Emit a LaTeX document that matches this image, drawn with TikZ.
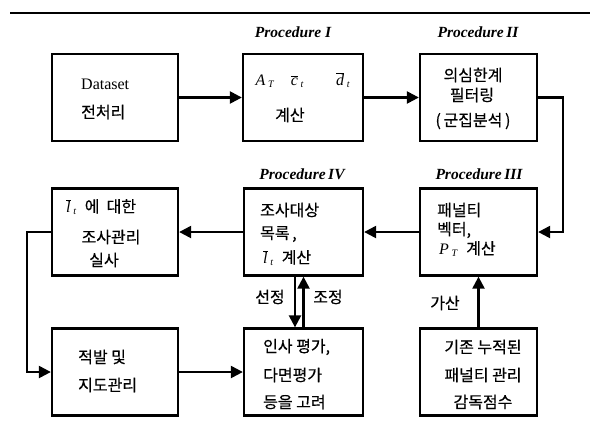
\documentclass[tikz,border=0pt]{standalone}
\usepackage{fontspec}
\setmainfont{Liberation Serif}
\newfontfamily\kr[FakeBold=0.5]{Noto Sans CJK KR}
\usetikzlibrary{arrows.meta}
\newcommand{\ovl}[1]{$\overline{\mbox{\textit{#1}}}$}
\newcommand{\sbx}[1]{$_{\mbox{\fontsize{10}{10}\selectfont\textit{#1}}}$}
\tikzset{
  box/.style={draw, line width=2.3pt, minimum width=#1, minimum height=87pt, inner sep=0pt},
  box/.default=120pt,
  conn/.style={line width=2.3pt, -{Triangle[length=12pt,width=12pt]}},
  txt/.style={font=\kr\fontsize{16}{18}\selectfont, inner sep=0pt},
  ltxt/.style={txt, anchor=west},
  mtxt/.style={anchor=west, inner sep=0pt, font=\fontsize{16}{18}\selectfont},
  proc/.style={font=\fontsize{15.5}{18}\selectfont\bfseries\itshape, inner sep=0pt},
}
\begin{document}
\begin{tikzpicture}[x=1pt,y=-1pt]
\useasboundingbox (0,0) rectangle (595,429);
\coordinate (tl) at (10,13);
\coordinate (tr) at (590,13);
\draw[line width=2.4pt] (tl) -- (tr);

% boxes
\node[box=126pt] (ds) at (115,97.5) {};
\node[box=120pt] (b1) at (303,97.5) {};
\node[box=117pt] (b2) at (478.5,97.5) {};
\node[box=117pt] (b3) at (478.5,232) {};
\node[box=119pt] (b4) at (303.5,232) {};
\node[box=126pt] (bl) at (115,232) {};
\node[box=126pt] (bj) at (115,372) {};
\node[box=119pt] (bi) at (303.5,372) {};
\node[box=117pt] (bg) at (478.5,372) {};

% procedure labels
\node[proc] (p1) at (293,32) {Procedure I};
\node[proc] (p2) at (478,32) {Procedure\,II};
\node[proc] (p3) at (479,174) {Procedure\,III};
\node[proc] (p4) at (302,174) {Procedure\,IV};

% box texts
\node[mtxt] (t1a) at (81,84) {Dataset};
\node[ltxt] (t1b) at (81,112) {전처리};

\node[inner sep=0pt, font=\fontsize{16}{18}\selectfont] (t2a) at (303,80) {\textit{A}\,\sbx{T}\quad\ovl{c}\,\sbx{t}\qquad\ovl{d}\,\sbx{t}};
\node[ltxt] (t2b) at (275,115) {계산};

\node[txt] (t3a) at (473,75) {의심한계};
\node[txt] (t3b) at (472,95) {필터링};
\node[txt] (t3c) at (473,121) {(\,군집분석\,)};

\node[ltxt] (t4a) at (437,210) {패널티};
\node[ltxt] (t4b) at (437,230) {벡터,};
\node[mtxt] (t4c) at (439,249) {\textit{P}\,\sbx{T}\ \ {\kr\fontsize{16}{18}\selectfont 계산}};

\node[ltxt] (t5a) at (260,210) {조사대상};
\node[ltxt] (t5b) at (260,234) {목록\,,};
\node[mtxt] (t5c) at (263,258) {\ovl{l}\,\sbx{t}\ \ {\kr\fontsize{16}{18}\selectfont 계산}};

\node[mtxt] (t6a) at (66,207) {\ovl{l}\,\sbx{t}\ \ {\kr\fontsize{16}{18}\selectfont 에\ \ 대한}};
\node[txt] (t6b) at (111,237) {조사관리};
\node[txt] (t6c) at (104,260) {실사};

\node[ltxt] (t7a) at (78,357) {적발 및};
\node[ltxt] (t7b) at (78,385) {지도관리};

\node[ltxt] (t8a) at (263,347) {인사 평가,};
\node[ltxt] (t8b) at (263,375) {다면평가};
\node[ltxt] (t8c) at (263,402) {등을 고려};

\node[txt] (t9a) at (483,347) {기존 누적된};
\node[txt] (t9b) at (483,375) {패널티 관리};
\node[txt] (t9c) at (483,402) {감독점수};

% connectors
\draw[conn] (ds.east) -- (b1.west);
\draw[conn] (b1.east) -- (b2.west);
\coordinate (c1) at (563,97.5);
\draw[conn] (b2.east) -- (c1) |- (b3.east);
\draw[conn] (b3.west) -- (b4.east);
\draw[conn] (b4.west) -- (bl.east);
\coordinate (c2) at (27,232);
\draw[conn] (bl.west) -- (c2) |- (bj.west);
\draw[conn] (bj.east) -- (bi.west);
\draw[conn] (bg.north) -- (b3.south);
\draw[conn] ([xshift=-8.5pt]b4.south) -- ([xshift=-8.5pt]bi.north);
\draw[conn] (bi.north) -- (b4.south);

% edge labels
\node[txt] (l1) at (270,297) {선정};
\node[txt] (l2) at (328,297) {조정};
\node[txt] (l3) at (445,303) {가산};
\end{tikzpicture}
\end{document}
